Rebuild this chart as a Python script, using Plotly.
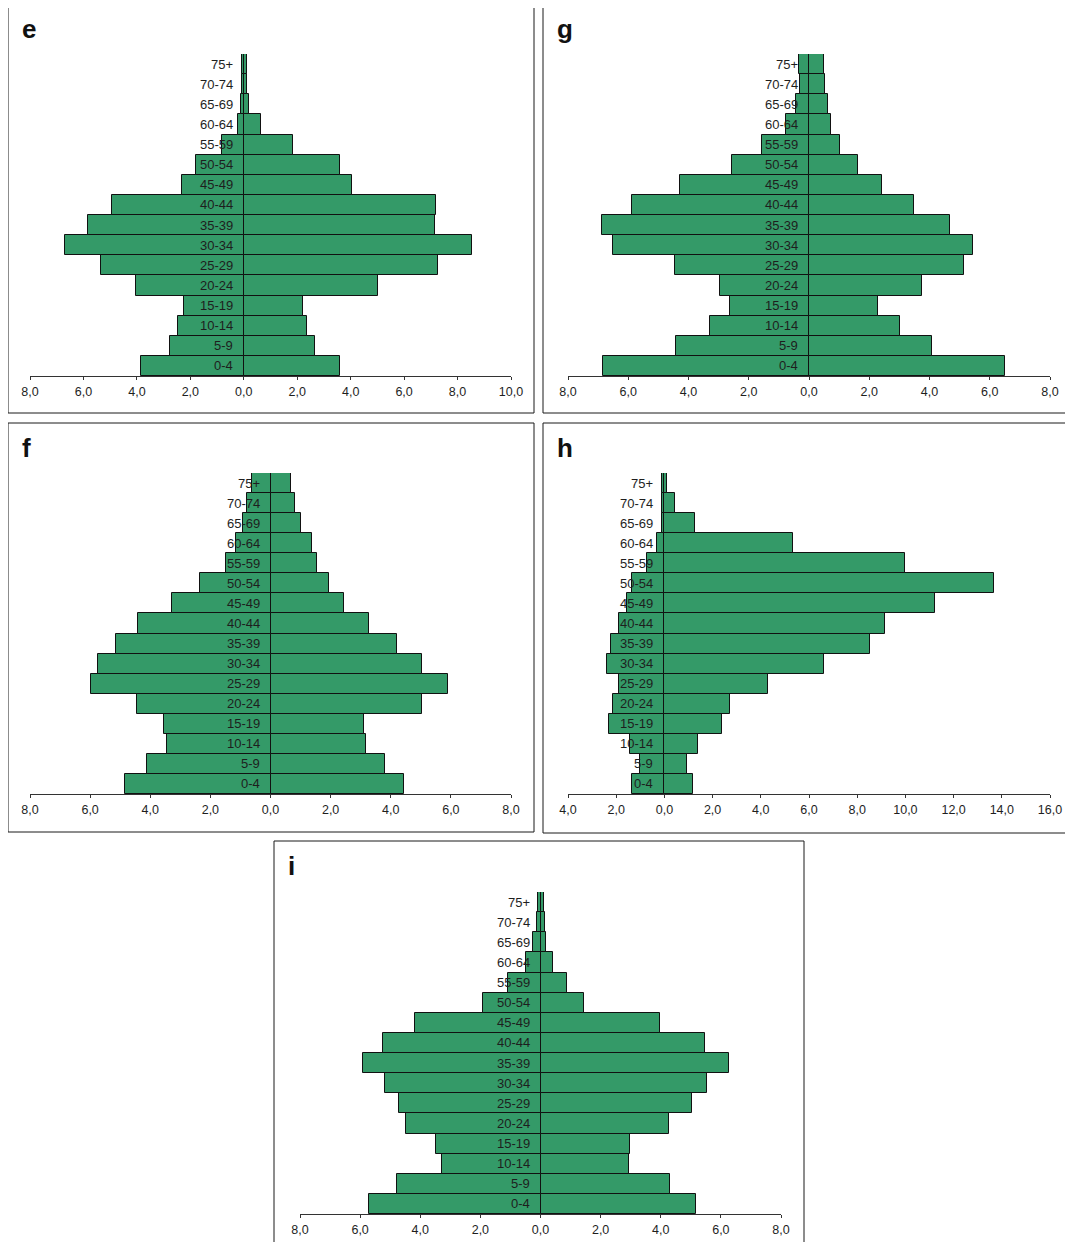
import plotly.graph_objects as go

# ---------------- data ----------------
age_groups = ["0-4", "5-9", "10-14", "15-19", "20-24", "25-29", "30-34", "35-39",
              "40-44", "45-49", "50-54", "55-59", "60-64", "65-69", "70-74", "75+"]

e_left = [3.85, 2.77, 2.45, 2.23, 4.03, 5.35, 6.70, 5.82, 4.92, 2.30, 1.78, 0.83, 0.23, 0.10, 0.05, 0.05]
e_right = [3.61, 2.65, 2.37, 2.21, 5.01, 7.25, 8.54, 7.17, 7.20, 4.06, 3.59, 1.86, 0.66, 0.21, 0.13, 0.12]

g_left = [6.83, 4.40, 3.27, 2.61, 2.96, 4.46, 6.49, 6.88, 5.89, 4.27, 2.54, 1.56, 0.78, 0.44, 0.30, 0.34]
g_right = [6.51, 4.09, 3.01, 2.30, 3.75, 5.16, 5.43, 4.68, 3.49, 2.42, 1.63, 1.03, 0.74, 0.64, 0.52, 0.51]

f_left = [4.84, 4.10, 3.43, 3.54, 4.43, 5.97, 5.75, 5.13, 4.42, 3.29, 2.34, 1.48, 1.14, 0.90, 0.77, 0.63]
f_right = [4.44, 3.80, 3.19, 3.12, 5.03, 5.91, 5.03, 4.21, 3.28, 2.43, 1.95, 1.54, 1.39, 1.03, 0.83, 0.69]

h_left = [1.33, 1.03, 1.41, 2.29, 2.12, 1.89, 2.39, 2.20, 1.89, 1.54, 1.35, 0.72, 0.31, 0.11, 0.08, 0.08]
h_right = [1.19, 0.92, 1.38, 2.39, 2.72, 4.28, 6.62, 8.53, 9.17, 11.22, 13.69, 9.99, 5.34, 1.27, 0.44, 0.10]

i_left = [5.71, 4.76, 3.28, 3.46, 4.46, 4.71, 5.17, 5.92, 5.25, 4.18, 1.92, 1.09, 0.47, 0.24, 0.13, 0.09]
i_right = [5.18, 4.31, 2.93, 2.99, 4.27, 5.05, 5.55, 6.26, 5.46, 3.96, 1.46, 0.89, 0.43, 0.17, 0.14, 0.11]

panel_letters = ["e", "g", "f", "h", "i"]
x_ranges = [(-8, 10), (-8, 8), (-8, 8), (-4, 16), (-8, 8)]

# ---------------- layout geometry (page pixels) ----------------
OFF = 8                       # default page body margin
W, H = 1073 - 2 * OFF, 1250 - 2 * OFF
# plot area: x0, x1, ytop, ybottom ; frame: left, top, right, bottom
plot_boxes = [(30, 511, 54, 376), (568, 1050, 54, 376), (30, 511, 473, 794),
              (568, 1050, 473, 794), (300, 781, 892, 1214)]
frames = [(8, 4, 534, 413), (543, 4, 1070, 413), (8, 423, 534, 832),
          (543, 423, 1070, 833), (274, 841, 804, 1246)]

BAR = "#349a68"
TXT = "#1e1e1e"
FONT = "Liberation Sans, Arial, Helvetica, sans-serif"


def px(x):
    return (x - OFF) / W


def py(y):
    return 1 - (y - OFF) / H


def fmt(v):
    return f"{abs(v):.1f}".replace(".", ",")


series = [(e_left, e_right), (g_left, g_right), (f_left, f_right),
          (h_left, h_right), (i_left, i_right)]

fig = go.Figure()
annotations = []
shapes = []
layout_axes = {}

for k, ((left, right), letter, xr, box, fr) in enumerate(
        zip(series, panel_letters, x_ranges, plot_boxes, frames)):
    idx = "" if k == 0 else str(k + 1)
    xa, ya = "x" + idx, "y" + idx
    fig.add_trace(go.Bar(
        y=age_groups, x=[-v for v in left], orientation="h",
        marker=dict(color=BAR, line=dict(color="#111111", width=1)),
        xaxis=xa, yaxis=ya, showlegend=False, hoverinfo="skip"))
    fig.add_trace(go.Bar(
        y=age_groups, x=right, orientation="h",
        marker=dict(color=BAR, line=dict(color="#111111", width=1)),
        xaxis=xa, yaxis=ya, showlegend=False, hoverinfo="skip"))

    x0, x1, yt, yb = box
    tickvals = list(range(xr[0], xr[1] + 1, 2))
    layout_axes["xaxis" + idx] = dict(
        domain=[px(x0), px(x1)], range=list(xr), anchor=ya,
        tickvals=tickvals, ticktext=[fmt(v) for v in tickvals],
        ticks="outside", ticklen=3, tickwidth=1, tickcolor="#333333",
        ticklabelstandoff=1,
        showline=True, linecolor="#333333", linewidth=1,
        showgrid=False, zeroline=True, zerolinecolor="#111111", zerolinewidth=2,
        tickfont=dict(family=FONT, size=12.5, color=TXT), fixedrange=True,
        automargin=False, layer="above traces")
    layout_axes["yaxis" + idx] = dict(
        domain=[py(yb), py(yt)], range=[-0.5, 15.5], anchor=xa,
        type="category", categoryorder="array", categoryarray=age_groups,
        showticklabels=False, showline=False, showgrid=False, zeroline=False,
        ticks="", fixedrange=True, automargin=False)

    for ag in age_groups:
        annotations.append(dict(
            x=0, y=ag, xref=xa, yref=ya, text=ag, showarrow=False,
            xanchor="right", yanchor="middle", xshift=-9,
            font=dict(family=FONT, size=13, color=TXT)))

    fl, ft, frr, fb = fr
    shapes.append(dict(type="rect", xref="paper", yref="paper",
                       x0=px(fl), x1=px(frr), y0=py(fb), y1=py(ft),
                       line=dict(color="#1a1a1a", width=1), fillcolor="rgba(0,0,0,0)",
                       layer="below"))
    annotations.append(dict(
        x=px(fl + 12), y=py(ft + 25), xref="paper", yref="paper", text=f"<b>{letter}</b>",
        showarrow=False, xanchor="left", yanchor="middle",
        font=dict(family=FONT, size=26, color="#111111")))

fig.update_layout(
    width=W, height=H, margin=dict(l=0, r=0, t=0, b=0, pad=0, autoexpand=False),
    paper_bgcolor="white", plot_bgcolor="white",
    barmode="relative", bargap=0,
    annotations=annotations, shapes=shapes, **layout_axes)

fig.write_html("out.html")
